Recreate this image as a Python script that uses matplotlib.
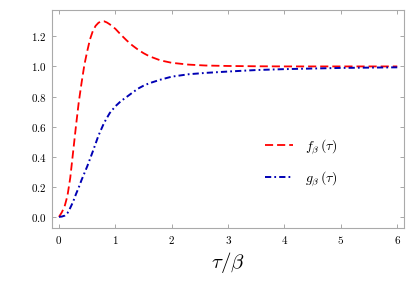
import matplotlib
matplotlib.use("Agg")
import matplotlib.pyplot as plt
from matplotlib.ticker import FuncFormatter

plt.rcParams['mathtext.fontset'] = 'cm'

# values
tau_f = [0, 0.05, 0.1, 0.15, 0.2, 0.25, 0.3, 0.35, 0.4, 0.45, 0.5, 0.55, 0.6, 0.65,
         0.7, 0.75, 0.8, 0.85, 0.9, 1.0, 1.1, 1.2, 1.3, 1.4, 1.5, 1.6, 1.8, 2.0,
         2.3, 2.6, 3.0, 3.5, 4.0, 5.0, 6.0]
f_vals = [0, 0.03, 0.07, 0.14, 0.26, 0.43, 0.6, 0.76, 0.89, 1.01, 1.10, 1.18, 1.235, 1.27,
          1.29, 1.30, 1.30, 1.292, 1.28, 1.25, 1.21, 1.173, 1.14, 1.112, 1.088, 1.068, 1.04, 1.024,
          1.012, 1.006, 1.003, 1.001, 1.0, 1.0, 1.0]

tau_g = [0, 0.05, 0.1, 0.15, 0.2, 0.25, 0.3, 0.35, 0.4, 0.45, 0.5, 0.6, 0.7, 0.8, 0.9,
         1.0, 1.1, 1.2, 1.3, 1.4, 1.5, 1.6, 1.8, 2.0, 2.3, 2.6, 3.0, 3.5, 4.0, 4.5,
         5.0, 5.5, 6.0]
g_vals = [0, 0.002, 0.008, 0.025, 0.06, 0.1, 0.15, 0.195, 0.245, 0.29, 0.335, 0.435, 0.54, 0.625, 0.69,
          0.735, 0.77, 0.797, 0.825, 0.852, 0.872, 0.888, 0.912, 0.932, 0.948, 0.957, 0.966, 0.976, 0.982, 0.986,
          0.99, 0.992, 0.994]

x_ticks = [0, 1, 2, 3, 4, 5, 6]
y_ticks = [0.0, 0.2, 0.4, 0.6, 0.8, 1.0, 1.2]

fig = plt.figure(figsize=(4.15, 2.81), dpi=100)
ax = fig.add_axes([0.1253, 0.1886, 0.8482, 0.7758])

ax.plot(tau_f, f_vals, color='#ff0000', lw=1.3, dashes=(4.5, 2.2), label=r'$f_\beta\,(\tau)$')
ax.plot(tau_g, g_vals, color='#0000b4', lw=1.4, dashes=(3.2, 1.6, 0.9, 1.6), label=r'$g_\beta\,(\tau)$')

ax.set_xlim(-0.124, 6.12)
ax.set_ylim(-0.074, 1.375)
ax.set_xticks(x_ticks)
ax.set_yticks(y_ticks)
ax.xaxis.set_major_formatter(FuncFormatter(lambda v, p: f"${v:.0f}$"))
ax.yaxis.set_major_formatter(FuncFormatter(lambda v, p: f"${v:.1f}$"))
ax.tick_params(direction='in', top=True, right=True, length=3, width=0.6,
               color='#999999', labelsize=8, pad=4)
for s in ax.spines.values():
    s.set_color('#aaaaaa')
    s.set_linewidth(0.8)

ax.set_xlabel(r'$\tau/\beta$', fontsize=15, labelpad=3)

ax.legend(loc='center left', bbox_to_anchor=(0.57, 0.30), frameon=False,
          fontsize=10, handlelength=2.0, labelspacing=0.95, handletextpad=0.9)

fig.savefig("out.png", dpi=100)
